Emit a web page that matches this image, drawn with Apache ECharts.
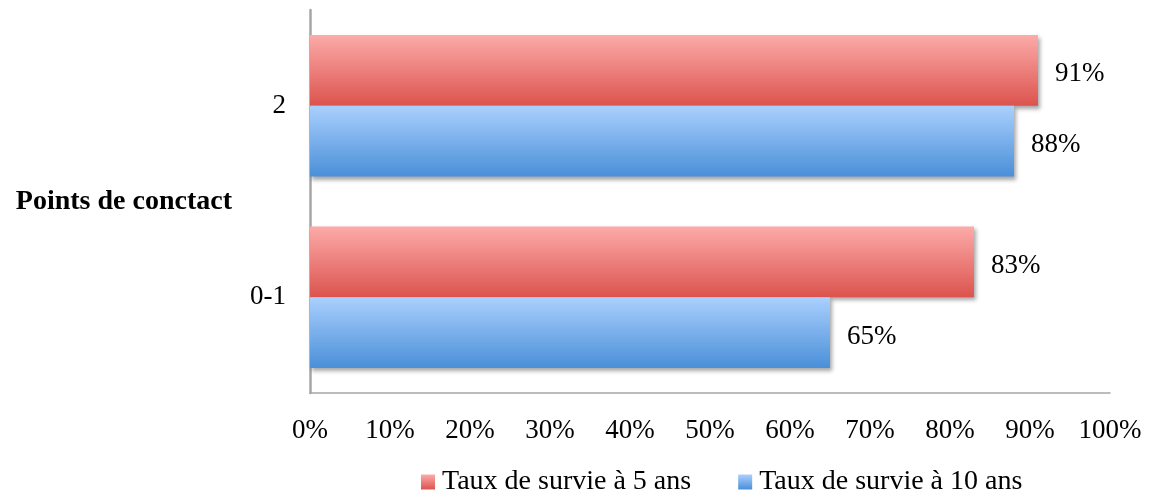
<!DOCTYPE html>
<html><head><meta charset="utf-8">
<script src="https://cdn.jsdelivr.net/npm/echarts@6/dist/echarts.min.js"></script>
<style>html,body{margin:0;padding:0;background:#fff}#c{width:1151px;height:497px}</style>
</head><body><div id="c"></div>
<script>
const categories = ['0-1', '2'];
const survie5 = [83, 91];
const survie10 = [65, 88];
const xTicks = [0, 10, 20, 30, 40, 50, 60, 70, 80, 90, 100];
const seriesNames = ['Taux de survie à 5 ans', 'Taux de survie à 10 ans'];

const FONT = 'Liberation Serif';
const redGrad = new echarts.graphic.LinearGradient(0, 0, 0, 1, [{offset: 0, color: '#fcaba9'}, {offset: 1, color: '#dc534e'}]);
const blueGrad = new echarts.graphic.LinearGradient(0, 0, 0, 1, [{offset: 0, color: '#aad0fe'}, {offset: 1, color: '#4a8fd8'}]);
const shadow = {shadowColor: 'rgba(0,0,0,0.35)', shadowBlur: 4, shadowOffsetX: 2, shadowOffsetY: 3};
const valLabel = {show: true, position: 'right', distance: 17, offset: [0, 4], formatter: p => p.value + '%', fontFamily: FONT, fontSize: 27, color: '#000'};

const chart = echarts.init(document.getElementById('c'), null, {renderer: 'canvas'});
chart.setOption({
  animation: false,
  textStyle: {fontFamily: FONT},
  grid: {left: 310, right: 41, top: 10, bottom: 104},
  legend: {
    data: seriesNames,
    top: 468,
    left: 421,
    padding: 0,
    itemWidth: 14, itemHeight: 15, itemGap: 47,
    icon: 'rect',
    textStyle: {fontFamily: FONT, fontSize: 28, color: '#000', padding: [2, 0, 0, 2]}
  },
  xAxis: {
    type: 'value', min: 0, max: 100, interval: 10,
    splitLine: {show: false},
    axisLine: {show: true, lineStyle: {color: '#a6a6a6', width: 1.5}},
    axisTick: {show: false},
    axisLabel: {formatter: v => xTicks.includes(v) ? v + '%' : '', fontFamily: FONT, fontSize: 27, color: '#000', margin: 24}
  },
  yAxis: {
    type: 'category', data: categories,
    name: 'Points de conctact',
    nameLocation: 'middle', nameRotate: 0, nameGap: 78,
    nameTextStyle: {fontFamily: FONT, fontSize: 28, fontWeight: 'bold', color: '#000', align: 'right'},
    axisLine: {show: true, lineStyle: {color: '#a6a6a6', width: 2.5}},
    axisTick: {show: false},
    axisLabel: {fontFamily: FONT, fontSize: 27, color: '#000', margin: 24}
  },
  series: [
    {name: seriesNames[0], type: 'bar', data: survie5, barCategoryGap: '26%', barGap: '0%',
     itemStyle: Object.assign({color: redGrad}, shadow), label: valLabel},
    {name: seriesNames[1], type: 'bar', data: survie10, barCategoryGap: '26%', barGap: '0%',
     itemStyle: Object.assign({color: blueGrad}, shadow), label: valLabel}
  ]
});
</script></body></html>
